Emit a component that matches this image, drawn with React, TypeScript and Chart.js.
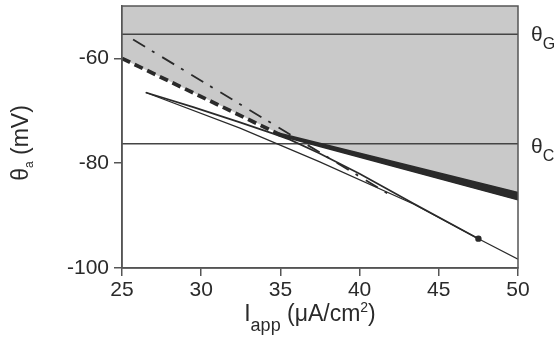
import React, { useEffect, useRef } from "react";
import { Chart, registerables } from "chart.js";

Chart.register(...registerables);

// ---- data ----
const X_TICKS = [25, 30, 35, 40, 45, 50];
const Y_TICKS = [-100, -80, -60];
const THETA_G = -55.4;
const THETA_C = -76.3;

const FILL_X = [25, 34.8, 50];
const FILL_Y = [-60, -74.2, -85.6];

const DASHED_X = [25, 35.0];
const DASHED_Y = [-60, -74.6];

const DASHDOT_X = [25.7, 42.0];
const DASHDOT_Y = [-56.4, -86.2];

const BAND_X = [34.8, 50];
const BAND_UPPER = [-74.2, -85.6];
const BAND_LOWER = [-74.6, -87.0];

const L1_X = [26.5, 32.45, 37.45, 43.4, 47.5, 50];
const L1_Y = [-66.5, -73.3, -79.7, -87.8, -94.4, -98.3];

const L2_X = [26.5, 29.5, 32.45, 34.5, 35.6, 37.45, 40, 43.4, 47.5];
const L2_Y = [-66.5, -69.3, -72.2, -74.3, -75.5, -78.1, -82.0, -87.7, -94.4];

const DOT_X = [47.5];
const DOT_Y = [-94.4];

const FAMILY = "'Liberation Sans', Arial, Helvetica, sans-serif";
const INK = "#2a2a2a";

const pts = (xs: number[], ys: number[]) => xs.map((x, i) => ({ x, y: ys[i] }));

type Part = { t: string; size: number; dy?: number };

function partsWidth(ctx: CanvasRenderingContext2D, parts: Part[]) {
  let w = 0;
  for (const p of parts) {
    ctx.font = `${p.size}px ${FAMILY}`;
    w += ctx.measureText(p.t).width;
  }
  return w;
}

function drawParts(ctx: CanvasRenderingContext2D, parts: Part[], x: number, y: number) {
  let cx = x;
  for (const p of parts) {
    ctx.font = `${p.size}px ${FAMILY}`;
    ctx.fillText(p.t, cx, y + (p.dy || 0));
    cx += ctx.measureText(p.t).width;
  }
}

const labelsPlugin = {
  id: "customLabels",
  afterDraw(chart: any) {
    const ctx: CanvasRenderingContext2D = chart.ctx;
    const { left, right, top, bottom } = chart.chartArea;
    const ys = chart.scales.y;
    ctx.save();
    // frame
    ctx.strokeStyle = "#555";
    ctx.lineWidth = 1.5;
    ctx.strokeRect(left, top, right - left, bottom - top);

    ctx.fillStyle = INK;
    ctx.textBaseline = "alphabetic";
    ctx.textAlign = "left";

    // right labels
    drawParts(ctx, [{ t: "θ", size: 21 }, { t: "G", size: 16, dy: 8 }], right + 13, ys.getPixelForValue(THETA_G) + 7);
    drawParts(ctx, [{ t: "θ", size: 21 }, { t: "C", size: 16, dy: 8 }], right + 13, ys.getPixelForValue(THETA_C) + 9);

    // x title
    const xParts: Part[] = [
      { t: "I", size: 23 },
      { t: "app", size: 18, dy: 10 },
      { t: " (μA/cm", size: 23 },
      { t: "2", size: 14, dy: -9 },
      { t: ")", size: 23 },
    ];
    const xw = partsWidth(ctx, xParts);
    drawParts(ctx, xParts, 310 - xw / 2, 321);

    // y title
    const yParts: Part[] = [
      { t: "θ", size: 23 },
      { t: "a", size: 12, dy: 5 },
      { t: " (mV)", size: 23 },
    ];
    const yw = partsWidth(ctx, yParts);
    ctx.translate(28, 143);
    ctx.rotate(-Math.PI / 2);
    drawParts(ctx, yParts, -yw / 2, 0);
    ctx.restore();
  },
};

export default function App() {
  const ref = useRef<HTMLCanvasElement | null>(null);
  useEffect(() => {
    if (!ref.current) return;
    const lineBase = { pointRadius: 0, tension: 0, fill: false, borderColor: INK };
    const chart = new Chart(ref.current, {
      type: "line",
      data: {
        datasets: [
          { ...lineBase, data: pts(DOT_X, DOT_Y), showLine: false, pointRadius: 3.2, pointBackgroundColor: INK, pointBorderWidth: 0, order: 1 },
          { ...lineBase, data: pts(L1_X, L1_Y), borderWidth: 1.2, order: 2 },
          { ...lineBase, data: pts(L2_X, L2_Y), borderWidth: 1.7, order: 3 },
          { ...lineBase, data: pts(DASHDOT_X, DASHDOT_Y), borderWidth: 1.8, borderDash: [14, 8, 3, 9], order: 4 },
          { ...lineBase, data: pts(DASHED_X, DASHED_Y), borderWidth: 3.8, borderDash: [9, 5], order: 5 },
          { ...lineBase, data: pts(BAND_X, BAND_UPPER), borderWidth: 1.5, fill: "+1", backgroundColor: INK, order: 6 },
          { ...lineBase, data: pts(BAND_X, BAND_LOWER), borderWidth: 1.5, order: 7 },
          { ...lineBase, data: pts([25, 50], [THETA_G, THETA_G]), borderWidth: 1.5, borderColor: "#444", order: 8 },
          { ...lineBase, data: pts([25, 50], [THETA_C, THETA_C]), borderWidth: 1.5, borderColor: "#444", order: 9 },
          { ...lineBase, data: pts(FILL_X, FILL_Y), borderWidth: 0, fill: "end", backgroundColor: "#c9c9c9", order: 20 },
        ] as any,
      },
      options: {
        responsive: false,
        animation: false,
        events: [],
        layout: { padding: { top: 6, right: 40, left: 0, bottom: 0 } },
        plugins: { legend: { display: false }, tooltip: { enabled: false } },
        scales: {
          x: {
            type: "linear",
            min: 25,
            max: 50,
            afterBuildTicks: (s: any) => { s.ticks = X_TICKS.map((v) => ({ value: v })); },
            afterFit: (s: any) => { s.height = 74; s.paddingLeft = 0; s.paddingRight = 0; },
            ticks: { font: { size: 21, family: FAMILY }, color: INK, padding: 2, maxRotation: 0 },
            grid: { drawOnChartArea: false, drawTicks: true, tickLength: 8, color: "#555", lineWidth: 1.5 },
            border: { color: "#555", width: 1.5 },
          },
          y: {
            type: "linear",
            min: -100,
            max: -50,
            afterBuildTicks: (s: any) => { s.ticks = Y_TICKS.map((v) => ({ value: v })); },
            afterFit: (s: any) => { s.width = 122; s.paddingTop = 0; s.paddingBottom = 0; },
            ticks: { font: { size: 21, family: FAMILY }, color: INK, padding: 5 },
            grid: { drawOnChartArea: false, drawTicks: true, tickLength: 8, color: "#555", lineWidth: 1.5 },
            border: { color: "#555", width: 1.5 },
          },
        },
      } as any,
      plugins: [labelsPlugin],
    });
    return () => chart.destroy();
  }, []);
  return (
    <div style={{ position: "fixed", left: 0, top: 0, width: 558, height: 342, background: "#fff" }}>
      <canvas ref={ref} width={558} height={342} style={{ display: "block", width: 558, height: 342 }} />
    </div>
  );
}
